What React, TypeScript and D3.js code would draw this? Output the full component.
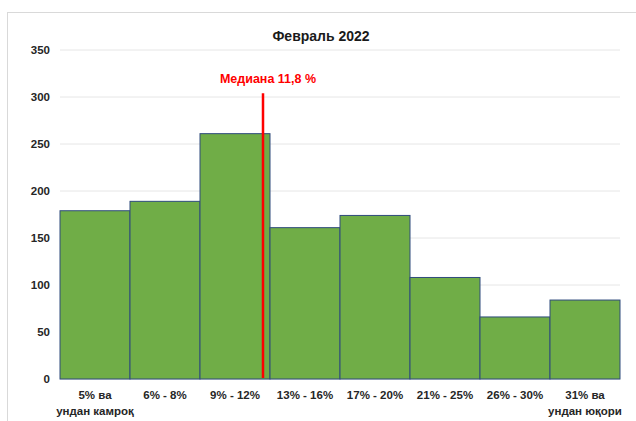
import React, { useEffect, useRef } from "react";
import * as d3 from "d3";

const categories = [
  "5% ва|ундан камроқ",
  "6% - 8%",
  "9% - 12%",
  "13% - 16%",
  "17% - 20%",
  "21% - 25%",
  "26% - 30%",
  "31% ва|ундан юқори",
];
const values = [179, 189, 261, 161, 174, 108, 66, 84];
const yTicks = [0, 50, 100, 150, 200, 250, 300, 350];
const medianLabel = "Медиана 11,8 %";
const medianBand = "9% - 12%";
const medianPos = 0.9; // share of the band width
const medianTop = 304;

export default function App() {
  const ref = useRef<SVGSVGElement>(null);

  useEffect(() => {
    const width = 636,
      height = 421;
    const margin = { top: 50, right: 16, bottom: 42, left: 60 };

    const svg = d3.select(ref.current);
    svg.selectAll("*").remove();

    // chart frame
    svg
      .append("rect")
      .attr("x", 7.5)
      .attr("y", 12.5)
      .attr("width", 640)
      .attr("height", 420)
      .attr("fill", "white")
      .attr("stroke", "#d9d9d9");

    var x = d3
      .scaleBand()
      .domain(categories)
      .range([margin.left, width - margin.right])
      .padding(0);

    var y = d3
      .scaleLinear()
      .domain([0, 350])
      .range([height - margin.bottom, margin.top]);

    // title
    svg
      .append("text")
      .attr("x", 321)
      .attr("y", 41)
      .attr("text-anchor", "middle")
      .attr("font-size", 14)
      .attr("font-weight", "bold")
      .attr("fill", "#1a1a1a")
      .text("Февраль 2022");

    // grid lines
    svg
      .selectAll(".grid")
      .data(yTicks)
      .enter()
      .append("line")
      .attr("x1", margin.left)
      .attr("x2", width - margin.right)
      .attr("y1", (d) => y(d))
      .attr("y2", (d) => y(d))
      .attr("stroke", (d) => (d === 0 ? "#d0d0d0" : "#e6e6e6"))
      .attr("stroke-width", 1);

    // y tick labels
    svg
      .selectAll(".ylab")
      .data(yTicks)
      .enter()
      .append("text")
      .attr("x", 50)
      .attr("y", (d) => y(d))
      .attr("dy", "0.35em")
      .attr("text-anchor", "end")
      .attr("font-size", 11.5)
      .attr("font-weight", "bold")
      .attr("fill", "#262626")
      .text((d) => d);

    // bars
    svg
      .selectAll(".bar")
      .data(values)
      .enter()
      .append("rect")
      .attr("x", (d, i) => x(categories[i])!)
      .attr("y", (d) => y(d))
      .attr("width", x.bandwidth())
      .attr("height", (d) => y(0) - y(d))
      .attr("fill", "#70ad47")
      .attr("stroke", "#2f4b7c")
      .attr("stroke-width", 1);

    // x labels
    var lab = svg
      .selectAll(".xlab")
      .data(categories)
      .enter()
      .append("text")
      .attr("text-anchor", "middle")
      .attr("font-size", 11.5)
      .attr("font-weight", "bold")
      .attr("fill", "#262626");
    lab
      .selectAll("tspan")
      .data((d) => d.split("|").map((t) => ({ t, c: d })))
      .enter()
      .append("tspan")
      .attr("x", (d) => x(d.c)! + x.bandwidth() / 2)
      .attr("y", (d, i) => 399 + i * 16)
      .text((d) => d.t);

    // median line
    var mx = x(medianBand)! + x.bandwidth() * medianPos;
    svg
      .append("line")
      .attr("x1", mx)
      .attr("x2", mx)
      .attr("y1", y(medianTop))
      .attr("y2", y(0) - 1)
      .attr("stroke", "#ff0000")
      .attr("stroke-width", 2.5);

    svg
      .append("text")
      .attr("x", mx + 5)
      .attr("y", y(medianTop) - 10)
      .attr("text-anchor", "middle")
      .attr("font-size", 12.5)
      .attr("font-weight", "bold")
      .attr("fill", "#ff0000")
      .text(medianLabel);
  }, []);

  return (
    <svg
      ref={ref}
      width={636}
      height={421}
      style={{
        position: "absolute",
        left: 0,
        top: 0,
        fontFamily: "'Liberation Sans', Arial, sans-serif",
        background: "white",
      }}
    />
  );
}
